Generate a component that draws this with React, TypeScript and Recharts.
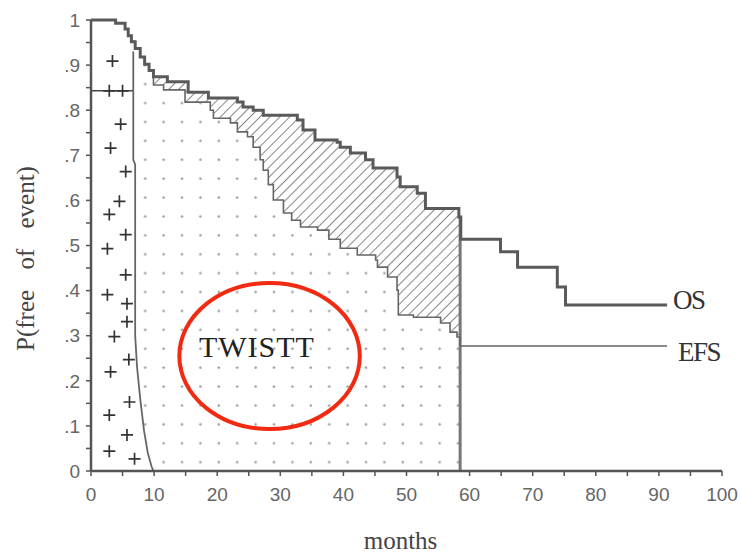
import React from 'react'
import {
  ComposedChart,
  Area,
  Line,
  Scatter,
  XAxis,
  YAxis,
  ReferenceDot,
} from 'recharts'

// overall survival (step changes: month -> new value)
const osMonths = [0, 3.9, 5.4, 5.9, 6.4, 7.0, 7.8, 8.5, 9.2, 9.9, 12.1, 15.4, 18.6, 23.2, 24.1, 25.7, 27.3, 32.7, 33.6, 35.5, 39.0, 39.5, 41.1, 43.5, 44.7, 48.5, 49.0, 51.7, 53.0, 58.3, 58.6, 64.9, 67.6, 73.9, 75.2, 91.3]
const osValues = [1, 0.993, 0.98, 0.965, 0.952, 0.937, 0.918, 0.902, 0.888, 0.874, 0.863, 0.84, 0.827, 0.818, 0.807, 0.8, 0.789, 0.778, 0.756, 0.734, 0.729, 0.718, 0.705, 0.69, 0.672, 0.652, 0.63, 0.616, 0.582, 0.563, 0.514, 0.486, 0.452, 0.408, 0.368, 0.368]

// event free survival
const efsMonths = [0, 3.9, 5.4, 5.9, 6.4, 7.0, 7.8, 8.5, 9.2, 9.9, 11.5, 14.9, 18.9, 19.4, 22.1, 23.2, 24.8, 25.7, 26.8, 27.3, 28.1, 28.9, 30.5, 31.8, 33.2, 35.9, 37.7, 39.5, 42.2, 45.1, 45.4, 47.0, 48.5, 48.7, 51.1, 55.4, 56.9, 58.0, 58.5, 91.3]
const efsValues = [1, 0.993, 0.98, 0.965, 0.952, 0.937, 0.918, 0.902, 0.888, 0.856, 0.845, 0.818, 0.8, 0.782, 0.772, 0.752, 0.741, 0.718, 0.69, 0.667, 0.635, 0.601, 0.572, 0.556, 0.541, 0.534, 0.514, 0.494, 0.479, 0.468, 0.452, 0.43, 0.401, 0.346, 0.341, 0.328, 0.308, 0.297, 0.277, 0.277]

// toxicity boundary
const toxMonths = [6.7, 6.7, 7.0, 7.0, 7.3, 7.8, 8.4, 9.0, 9.6, 9.9]
const toxValues = [0.93, 0.69, 0.68, 0.3, 0.23, 0.16, 0.09, 0.04, 0.01, 0]
const toxLineLevel = 0.843

// "+" markers in the TOX zone
const plusMonths = [3.4, 2.9, 5.0, 4.7, 3.1, 5.5, 4.5, 2.9, 5.5, 2.6, 5.5, 2.6, 5.7, 5.7, 3.7, 6.0, 3.1, 6.1, 2.9, 5.7, 2.9, 6.9]
const plusValues = [0.909, 0.843, 0.843, 0.769, 0.716, 0.664, 0.598, 0.569, 0.524, 0.493, 0.435, 0.391, 0.371, 0.331, 0.298, 0.247, 0.22, 0.153, 0.124, 0.08, 0.044, 0.027]

const cutoffMonth = 58.5

const xTicks = [0, 5, 10, 15, 20, 25, 30, 35, 40, 45, 50, 55, 60, 65, 70, 75, 80, 85, 90, 95, 100]
const yTicks = [0, 0.05, 0.1, 0.15, 0.2, 0.25, 0.3, 0.35, 0.4, 0.45, 0.5, 0.55, 0.6, 0.65, 0.7, 0.75, 0.8, 0.85, 0.9, 0.95, 1]

// annotation: ellipse + text (data units)
const ellipseCenter = { m: 28.3, v: 0.255 }
const ellipseHalf = { m: 14.3, v: 0.162 }
const twistText = { m: 26.3, v: 0.253, label: 'TWISTT' }

const W = 741
const H = 557
const MARGIN = { top: 20, right: 19, left: 0, bottom: 0 }
const Y_W = 91
const X_H = 86
const pxPerMonth = (W - MARGIN.right - MARGIN.left - Y_W) / 100
const pxPerUnit = H - MARGIN.top - X_H

const SERIF = '"Liberation Serif", "DejaVu Serif", serif'
const SANS = '"Liberation Sans", Arial, sans-serif'

const pts = (ms: number[], vs: number[]) => ms.map((m, i) => ({ m, v: vs[i] }))

const clipAt = (ms: number[], vs: number[], end: number) => {
  const out: { m: number; v: number }[] = []
  let last = vs[0]
  ms.forEach((m, i) => {
    if (m < end) {
      out.push({ m, v: vs[i] })
      last = vs[i]
    }
  })
  out.push({ m: end, v: last })
  return out
}

const valueAt = (ms: number[], vs: number[], x: number) => {
  let v = vs[0]
  ms.forEach((m, i) => {
    if (m <= x) v = vs[i]
  })
  return v
}

const osData = pts(osMonths, osValues)
const efsData = pts(efsMonths, efsValues)
const hatchData = clipAt(osMonths, osValues, cutoffMonth)
const dotsData = clipAt(efsMonths, efsValues, cutoffMonth)
const toxData = pts(toxMonths, toxValues)
const toxFill = [{ m: 0, v: 1 }, { m: toxMonths[0], v: 1 }, ...toxData]
const toxLine = [{ m: 0, v: toxLineLevel }, { m: toxMonths[0], v: toxLineLevel }]
const cutLine = [{ m: cutoffMonth, v: 0 }, { m: cutoffMonth, v: valueAt(osMonths, osValues, cutoffMonth) }]
const plusData = pts(plusMonths, plusValues)

const xFmt = (v: number) => (v % 10 === 0 ? String(v) : '')
const yFmt = (v: number) => {
  const r = Math.round(v * 100)
  if (r % 10 !== 0) return ''
  if (r === 100) return '1'
  if (r === 0) return '0'
  return '.' + r / 10
}

const PlusShape = (p: any) => (
  <path
    d={`M${p.cx - 6},${p.cy}H${p.cx + 6}M${p.cx},${p.cy - 6}V${p.cy + 6}`}
    stroke="#333"
    strokeWidth={1.7}
    fill="none"
  />
)

const YTitle = (props: any) => {
  const vb = props.viewBox || { y: MARGIN.top, height: pxPerUnit }
  const cx = 25
  const cy = vb.y + vb.height / 2 + 13
  return (
    <text
      x={cx}
      y={cy}
      transform={`rotate(-90 ${cx} ${cy})`}
      textAnchor="middle"
      dominantBaseline="central"
      fontFamily={SERIF}
      fontSize={25}
      fill="#444"
      style={{ wordSpacing: 14 }}
    >
      P(free of event)
    </text>
  )
}

const XTitle = (props: any) => {
  const vb = props.viewBox || { x: Y_W, width: 631 }
  return (
    <text
      x={vb.x + vb.width / 2 - 6}
      y={549}
      textAnchor="middle"
      fontFamily={SERIF}
      fontSize={25}
      fill="#444"
    >
      months
    </text>
  )
}

const endLabel = (text: string, dx: number, dy: number) => (p: any) => (
  <text
    x={p.cx + dx}
    y={p.cy + dy}
    dominantBaseline="central"
    fontFamily={SERIF}
    fontSize={27}
    fill="#333"
    letterSpacing={-1.5}
  >
    {text}
  </text>
)

export default function App() {
  const lastOs = osMonths.length - 1
  const lastEfs = efsMonths.length - 1
  return (
    <div style={{ position: 'absolute', left: 0, top: 0, width: W, height: H, background: '#fff' }}>
      <ComposedChart width={W} height={H} margin={MARGIN}>
        <defs>
          <pattern id="hatch" width="7" height="7" patternUnits="userSpaceOnUse" patternTransform="rotate(45)">
            <rect width="7" height="7" fill="#fff" />
            <line x1="0" y1="0" x2="0" y2="7" stroke="#555" strokeWidth={1.4} />
          </pattern>
          <pattern id="dots" x="6.9" y="-1" width="18.4" height="18.9" patternUnits="userSpaceOnUse">
            <rect width="18.4" height="18.9" fill="#fff" />
            <rect x="8.2" y="9" width="2.6" height="1.2" fill="#999" />
            <rect x="8.9" y="8.2" width="1.2" height="2.6" fill="#999" />
          </pattern>
        </defs>

        <XAxis
          type="number"
          dataKey="m"
          domain={[0, 100]}
          ticks={xTicks}
          interval={0}
          tickFormatter={xFmt}
          height={X_H}
          tickSize={5}
          tickMargin={12}
          axisLine={{ stroke: '#555', strokeWidth: 2.5 }}
          tickLine={{ stroke: '#555', strokeWidth: 1.5 }}
          tick={{ fontFamily: SANS, fontSize: 19, fill: '#666' }}
          label={<XTitle />}
        />
        <YAxis
          type="number"
          dataKey="v"
          domain={[0, 1]}
          ticks={yTicks}
          interval={0}
          tickFormatter={yFmt}
          width={Y_W}
          tickSize={5}
          tickMargin={6}
          axisLine={{ stroke: '#555', strokeWidth: 2.5 }}
          tickLine={{ stroke: '#555', strokeWidth: 1.5 }}
          tick={{ fontFamily: SANS, fontSize: 19, fill: '#666' }}
          label={<YTitle />}
        />

        <Area data={hatchData} dataKey="v" type="stepAfter" stroke="none" fill="url(#hatch)" fillOpacity={1} isAnimationActive={false} />
        <Area data={dotsData} dataKey="v" type="stepAfter" stroke="none" fill="url(#dots)" fillOpacity={1} isAnimationActive={false} />
        <Area data={toxFill} dataKey="v" type="linear" stroke="none" fill="#fff" fillOpacity={1} isAnimationActive={false} />

        <Line data={cutLine} dataKey="v" type="linear" stroke="#777" strokeWidth={3} dot={false} isAnimationActive={false} />
        <Line data={toxLine} dataKey="v" type="linear" stroke="#444" strokeWidth={1.5} dot={false} isAnimationActive={false} />
        <Line data={toxData} dataKey="v" type="linear" stroke="#666" strokeWidth={1.8} dot={false} isAnimationActive={false} />
        <Line data={efsData} dataKey="v" type="stepAfter" stroke="#666" strokeWidth={1.6} dot={false} isAnimationActive={false} />
        <Line data={osData} dataKey="v" type="stepAfter" stroke="#5a5a5a" strokeWidth={3} dot={false} isAnimationActive={false} />

        <Scatter data={plusData} dataKey="v" shape={PlusShape} isAnimationActive={false} />

        <ReferenceDot x={osMonths[lastOs]} y={osValues[lastOs]} r={0} shape={endLabel('OS', 6, -5)} />
        <ReferenceDot x={efsMonths[lastEfs]} y={efsValues[lastEfs]} r={0} shape={endLabel('EFS', 11, 6)} />

        <ReferenceDot
          x={ellipseCenter.m}
          y={ellipseCenter.v}
          r={0}
          shape={(p: any) => (
            <ellipse
              cx={p.cx}
              cy={p.cy}
              rx={ellipseHalf.m * pxPerMonth}
              ry={ellipseHalf.v * pxPerUnit}
              fill="none"
              stroke="#f32a12"
              strokeWidth={4}
            />
          )}
        />
        <ReferenceDot
          x={twistText.m}
          y={twistText.v}
          r={0}
          shape={(p: any) => (
            <text x={p.cx} y={p.cy} textAnchor="middle" fontFamily={SERIF} fontSize={30} letterSpacing={1} fill="#222">
              {twistText.label}
            </text>
          )}
        />
      </ComposedChart>
    </div>
  )
}
